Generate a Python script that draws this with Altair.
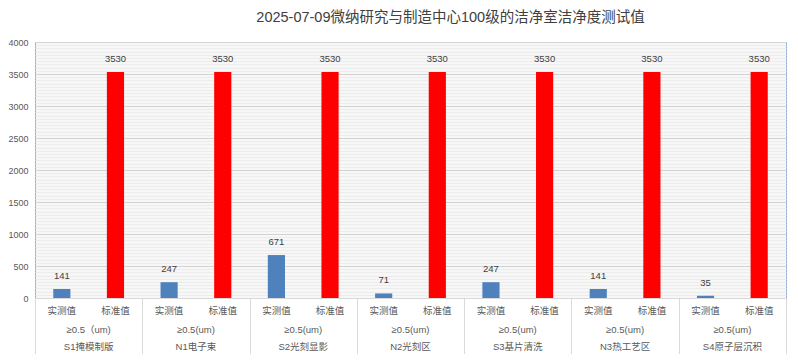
import altair as alt
import pandas as pd

title_text = "2025-07-09微纳研究与制造中心100级的洁净室洁净度测试值"
groups = ["S1掩模制版", "N1电子束", "S2光刻显影", "N2光刻区", "S3基片清洗", "N3热工艺区", "S4原子层沉积"]
particle = ["≥0.5（um)", "≥0.5(um)", "≥0.5(um)", "≥0.5(um)", "≥0.5(um)", "≥0.5(um)", "≥0.5(um)"]
sub_labels = ["实测值", "标准值"]
measured = [141, 247, 671, 71, 247, 141, 35]
standard = [3530, 3530, 3530, 3530, 3530, 3530, 3530]
y_ticks = list(range(0, 4001, 50))

rows = []
for g, m, s in zip(groups, measured, standard):
    rows.append({"group": g, "type": sub_labels[0], "value": m})
    rows.append({"group": g, "type": sub_labels[1], "value": s})
df = pd.DataFrame(rows)
gdf = pd.DataFrame({"group": groups, "particle": particle})

LATIN = "Liberation Sans, Noto Sans CJK SC"
CJK = "Noto Sans CJK SC"
GREY = "#595959"

x_enc = alt.X(
    "group:N", sort=groups, title=None,
    scale=alt.Scale(paddingInner=0, paddingOuter=0),
    axis=alt.Axis(labels=False, tickBand="extent", tickSize=56, tickColor="#d9d9d9",
                  domainColor="#d9d9d9", grid=False),
)
xo_enc = alt.XOffset("type:N", sort=sub_labels,
                     scale=alt.Scale(paddingInner=0.68, paddingOuter=0.34))

base = alt.Chart(df).encode(x=x_enc, xOffset=xo_enc)

bars = base.mark_bar().encode(
    y=alt.Y("value:Q", title=None,
            scale=alt.Scale(domain=[0, 4000], nice=False),
            axis=alt.Axis(values=y_ticks, tickCount=200, ticks=False, domain=False, format="d",
                          labelOverlap=False,
                          labelExpr="datum.value % 500 === 0 ? datum.label : ''",
                          labelFont=LATIN, labelFontSize=9, labelColor=GREY, labelPadding=7,
                          gridColor=alt.condition("datum.value % 500 === 0",
                                                  alt.value("#d4d4d4"), alt.value("#ececec")))),
    color=alt.Color("type:N", scale=alt.Scale(domain=sub_labels, range=["#4F81BD", "#FF0000"]),
                    legend=None),
)

values = base.mark_text(baseline="bottom", dy=-8, font=LATIN, fontSize=9.5, color="#404040").encode(
    y="value:Q", text="value:Q"
)

subtext = base.mark_text(baseline="middle", font=CJK, fontSize=9.5, color=GREY).encode(
    y=alt.value(269), text="type:N"
)

ptext = alt.Chart(gdf).mark_text(baseline="middle", font=LATIN, fontSize=9.5, color=GREY).encode(
    x=alt.X("group:N", sort=groups), y=alt.value(288), text="particle:N"
)

gtext = alt.Chart(gdf).mark_text(baseline="middle", font=LATIN, fontSize=9.5, color=GREY).encode(
    x=alt.X("group:N", sort=groups), y=alt.value(305), text="group:N"
)

chart = (
    alt.layer(bars, values, subtext, ptext, gtext)
    .properties(
        width=751, height=256,
        autosize=alt.AutoSizeParams(type="none"),
        padding={"left": 27, "top": 34, "right": 4, "bottom": 56},
        title=alt.TitleParams(title_text, font=LATIN, fontSize=14.5, fontWeight="normal",
                              color="#404040", anchor="middle", frame="group", dx=40, offset=13),
    )
    .configure_view(stroke="#95B3D7", fill="#f7f7f7")
)

chart.save("out.html", embed_options={"renderer": "svg", "actions": False})
